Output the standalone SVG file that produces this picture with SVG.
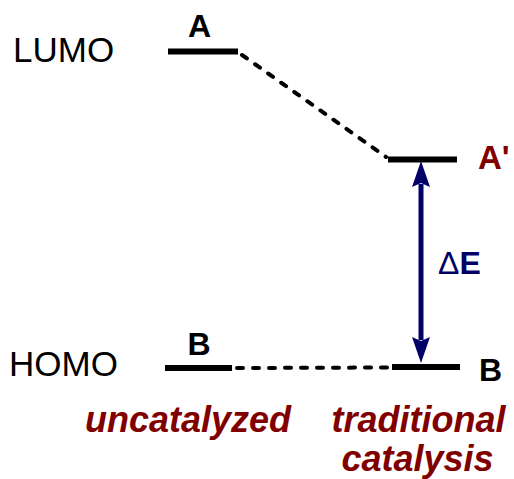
<svg xmlns="http://www.w3.org/2000/svg" width="514" height="479" viewBox="0 0 514 479">
<style>
.lbl{font-family:"Liberation Sans",Arial,sans-serif;font-size:35px;fill:#000}
.bold{font-family:"Liberation Sans",Arial,sans-serif;font-weight:bold;fill:#000}
.red{fill:#800000}
.cap{font-family:"Liberation Sans",Arial,sans-serif;font-weight:bold;font-style:italic;font-size:36px;fill:#800000;text-anchor:middle}
.level{stroke:#000;stroke-width:6;fill:none}
.dash{stroke:#000;stroke-width:4;stroke-dasharray:6 10;stroke-linecap:round;fill:none}
</style>
<rect width="514" height="479" fill="#fff"/>
<text class="lbl" x="13" y="62">LUMO</text>
<text class="lbl" x="9" y="376">HOMO</text>
<g id="connectors">
<line class="dash" x1="242" y1="55" x2="386" y2="157"/>
<line class="dash" x1="237" y1="368" x2="390" y2="367.5"/>
<g id="deltaE-arrow">
<line x1="421" y1="184" x2="421" y2="340" stroke="#000066" stroke-width="5"/>
<path d="M421 161 L430 187 L421 183 L412 187 Z" fill="#000066"/>
<path d="M421 363 L430 337 L421 341 L412 337 Z" fill="#000066"/>
</g>
</g>
<g id="A">
<line class="level" x1="168" y1="51.5" x2="238" y2="51.5"/>
<text class="bold" x="199.5" y="37" font-size="32" text-anchor="middle">A</text>
</g>
<g id="Aprime">
<line class="level" x1="388" y1="159.5" x2="457" y2="159.5"/>
<text class="bold red" x="478" y="169" font-size="33">A'</text>
</g>
<g id="B-left">
<line class="level" x1="165" y1="368" x2="232" y2="368"/>
<text class="bold" x="199" y="355" font-size="32" text-anchor="middle">B</text>
</g>
<g id="B-right">
<line class="level" x1="392" y1="367" x2="460" y2="367" stroke-width="7"/>
<text class="bold" x="479" y="381" font-size="32">B</text>
</g>
<text x="438" y="274" font-family="'Liberation Sans',Arial,sans-serif" font-size="32" fill="#000066">Δ<tspan font-weight="bold">E</tspan></text>
<text class="cap" x="188" y="432">uncatalyzed</text>
<text class="cap" x="418.5" y="432">traditional</text>
<text class="cap" x="417.5" y="471">catalysis</text>
</svg>
